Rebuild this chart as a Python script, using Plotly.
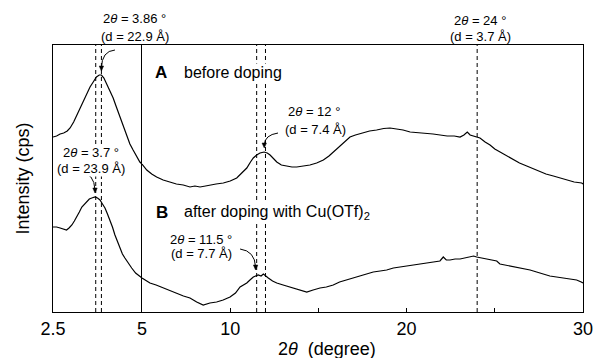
import plotly.graph_objects as go
import numpy as np

# ---- data (intensity in arbitrary units) ----
two_theta_A = [2.50, 2.60, 2.70, 2.80, 2.90, 2.98, 3.08, 3.17, 3.26, 3.35, 3.45, 3.54, 3.63, 3.72,
               3.80, 3.86, 3.93, 4.00, 4.10, 4.19, 4.28, 4.38, 4.47, 4.57, 4.66, 4.75, 4.85, 4.94,
               5.00, 5.27, 5.55, 5.83, 6.20, 6.59, 6.95, 7.34, 7.72, 8.00, 8.29, 8.60, 8.85, 9.20,
               9.61, 10.0, 10.37, 10.6, 10.94, 11.15, 11.31, 11.5, 11.69, 11.92, 12.1, 12.26, 12.45,
               12.64, 12.9, 13.2, 13.5, 13.77, 14.1, 14.52, 14.9, 15.28, 15.6, 15.85, 16.1, 16.41,
               16.79, 17.1, 17.55, 17.9, 18.3, 18.7, 19.06, 19.4, 19.8, 20.2, 20.6, 21.0, 21.5,
               21.9, 22.3, 22.7, 23.03, 23.25, 23.44, 23.6, 23.78, 24.16, 24.45, 24.73, 25.0,
               25.29, 25.7, 26.05, 26.4, 26.81, 27.2, 27.56, 27.9, 28.32, 28.7, 29.08, 29.5,
               29.93, 30.0]
intensity_A = [175, 176, 178, 179, 181, 184, 190, 197, 205, 212, 219, 225, 230, 235,
               237, 237, 234, 229, 222, 214, 205, 195, 185, 175, 168, 162, 156, 150,
               148, 142, 138, 135, 132, 130, 128, 127, 125, 126, 125, 126, 127, 128,
               129, 131, 134, 138, 144, 150, 154, 157, 159, 160, 159, 157, 153,
               150, 147, 146, 145, 145, 146, 147, 149, 152, 156, 160, 164, 169,
               175, 177, 179, 181, 182, 183.5, 184, 183, 182, 180, 179.5, 179, 178,
               177, 176, 176, 175, 177, 180, 177, 176, 174, 170, 167, 163,
               160, 156, 152, 149, 146, 143, 140, 138, 136, 134, 132, 130,
               129, 128]

two_theta_B = [2.50, 2.60, 2.70, 2.80, 2.88, 2.95, 3.03, 3.10, 3.17, 3.24, 3.31, 3.38, 3.45, 3.52,
               3.59, 3.68, 3.75, 3.82, 3.89, 3.96, 4.03, 4.10, 4.17, 4.24, 4.31, 4.38, 4.45, 4.52,
               4.61, 4.71, 4.82, 4.94, 5.00, 5.45, 5.8, 6.21, 6.6, 6.97, 7.35, 7.72, 8.1, 8.47,
               8.85, 9.23, 9.6, 9.99, 10.3, 10.56, 10.74, 10.94, 11.12, 11.31, 11.59, 11.75, 11.88,
               12.0, 12.16, 12.4, 12.64, 13.0, 13.39, 13.8, 14.34, 14.7, 15.09, 15.45, 15.84,
               16.2, 16.6, 17.0, 17.36, 17.7, 18.11, 18.5, 18.87, 19.25, 19.63, 20.0, 20.38,
               20.75, 21.14, 21.5, 21.89, 22.08, 22.25, 22.46, 22.75, 23.03, 23.3, 23.59, 23.8,
               23.97, 24.25, 24.54, 24.8, 25.11, 25.29, 25.6, 25.86, 26.2, 26.61, 27.0, 27.37,
               27.75, 28.12, 28.5, 28.88, 29.25, 29.64, 29.9, 30.0]
intensity_B = [85, 85, 84, 83, 82, 84, 87, 91, 95, 100, 105, 108, 111, 113,
               114, 115, 114, 112, 108, 104, 98, 92, 85, 77, 70, 64, 58, 54,
               49, 44, 39, 35, 34, 29, 27, 24, 21, 19, 16, 14, 10, 7,
               9, 10, 12, 15, 19, 25, 27, 29, 32, 35, 37, 36, 38,
               36, 34, 31, 29, 27, 25, 23, 20, 22, 24, 25, 27,
               30, 32, 34, 36, 38, 40, 41, 42, 44, 45, 46, 47,
               48, 49, 50, 51, 55, 52, 52, 53, 53, 54, 55, 56,
               55, 54, 53, 52, 51, 48, 47, 46, 45, 44, 42, 40,
               38, 36, 35, 34, 33, 32, 30, 29]

peaks_low = [3.7, 3.86]          # dashed lines, expanded low-angle panel
peaks_high = [11.5, 12.0, 24.0]  # dashed lines, main panel

x_ticks_low = [2.5, 5]
x_ticklabels_low = ["2.5", "5"]
x_ticks_high = [10, 20, 30]
x_ticklabels_high = ["10", "20", "30"]
x_minor_high = [15, 25]

FONT = "Arial, Liberation Sans, Helvetica, sans-serif"
W, H = 594, 358
L, R, T, B = 53, 11, 45, 46
PW, PH = W - L - R, H - T - B
split = (142 - L) / PW
LOW_RANGE = [2.5, 5]
HIGH_RANGE = [5, 30]
deg_per_px = {"x": (LOW_RANGE[1] - LOW_RANGE[0]) / (split * PW),
              "x2": (HIGH_RANGE[1] - HIGH_RANGE[0]) / ((1 - split) * PW)}


def px(xp):
    return (xp - L) / PW


def py(yp):
    return (H - B - yp) / PH


fig = go.Figure()

xa = np.array(two_theta_A); ya = np.array(intensity_A)
xb = np.array(two_theta_B); yb = np.array(intensity_B)
line = dict(color="black", width=1.2)
for xs, ys in ((xa, ya), (xb, yb)):
    m = xs <= 5
    fig.add_trace(go.Scatter(x=xs[m], y=ys[m], mode="lines", line=line,
                             xaxis="x", yaxis="y", showlegend=False, hoverinfo="skip"))
    m = xs >= 5
    fig.add_trace(go.Scatter(x=xs[m], y=ys[m], mode="lines", line=line,
                             xaxis="x2", yaxis="y2", showlegend=False, hoverinfo="skip"))

dash = dict(color="black", width=1, dash="4px,3px")
for p in peaks_low:
    fig.add_shape(type="line", xref="x", yref="paper", x0=p, x1=p, y0=0, y1=1, line=dash)
for p in peaks_high:
    fig.add_shape(type="line", xref="x2", yref="paper", x0=p, x1=p, y0=0, y1=1, line=dash)

# curved arrows with small filled heads
arrows = [
    ("x", 4.24, 262, 3.87, 261, 3.86, 241),
    ("x2", 12.71, 179, 11.95, 177, 11.93, 164),
    ("x", 3.26, 140, 3.66, 139, 3.68, 119),
    ("x2", 10.56, 63, 11.40, 61, 11.44, 42),
]
for xr, x0, y0, cx, cy, x1, y1 in arrows:
    yr = "y" if xr == "x" else "y2"
    fig.add_shape(type="path", xref=xr, yref=yr,
                  path=f"M {x0},{y0} Q {cx},{cy} {x1},{y1 + 3}",
                  line=dict(color="black", width=1))
    hw = 2.2 * deg_per_px[xr]
    fig.add_shape(type="path", xref=xr, yref=yr,
                  path=f"M {x1},{y1} L {x1 - hw},{y1 + 5} L {x1 + hw},{y1 + 5} Z",
                  line=dict(color="black", width=0.5), fillcolor="black")


def label(xp, yp, text, size=13, bg=None, xanchor="center"):
    fig.add_annotation(x=px(xp), y=py(yp), xref="paper", yref="paper", text=text,
                       showarrow=False, xanchor=xanchor, yanchor="middle",
                       font=dict(family=FONT, size=size, color="black"),
                       bgcolor=bg, borderpad=0)


label(134.5, 19, "2<i>θ</i> = 3.86 °")
label(134.5, 37, "(d = 22.9 Å)")
label(480, 20, "2<i>θ</i> = 24 °")
label(480, 37, "(d = 3.7 Å)")
label(314, 112, "2<i>θ</i> = 12 °")
label(315, 129, "(d = 7.4 Å)")
label(91, 152, "2<i>θ</i> = 3.7 °", bg="white")
label(91, 168, "(d = 23.9 Å)", bg="white")
label(201, 239, "2<i>θ</i> = 11.5 °")
label(201, 253, "(d = 7.7 Å)")
label(161, 72, "<b>A</b>", size=17, bg="white")
label(183, 72, "before doping", size=16, bg="white", xanchor="left")
label(162, 212, "<b>B</b>", size=17, bg="white")
label(183, 212, "after doping with Cu(OTf)<sub>2</sub>", size=16, bg="white", xanchor="left")

# axis titles
label(327, 349, "2<i>θ</i>  (degree)", size=18)
fig.add_annotation(x=px(22), y=0.5, xref="paper", yref="paper", text="Intensity (cps)",
                   textangle=-90, showarrow=False, xanchor="center", yanchor="middle",
                   font=dict(family=FONT, size=18, color="black"))

axis_common = dict(showline=True, linecolor="black", linewidth=1, mirror=True,
                   showgrid=False, zeroline=False, ticks="inside", ticklen=4,
                   tickcolor="black", automargin=False,
                   tickfont=dict(family=FONT, size=18, color="black"))
yaxis_common = dict(domain=[0, 1], range=[0, PH], showline=True, linecolor="black",
                    linewidth=1, showgrid=False, zeroline=False,
                    showticklabels=False, ticks="", automargin=False)

fig.update_layout(
    template="none",
    width=W, height=H,
    margin=dict(l=L, r=R, t=T, b=B, autoexpand=False),
    paper_bgcolor="white", plot_bgcolor="white",
    showlegend=False,
    hovermode=False,
    xaxis=dict(domain=[0, split], range=LOW_RANGE, anchor="y",
               tickvals=x_ticks_low, ticktext=x_ticklabels_low, **axis_common),
    xaxis2=dict(domain=[split, 1], range=HIGH_RANGE, anchor="y2",
                tickvals=x_ticks_high, ticktext=x_ticklabels_high,
                minor=dict(tickvals=x_minor_high, ticks="inside", ticklen=4,
                           tickcolor="black", showgrid=False),
                **axis_common),
    yaxis=dict(anchor="x", mirror=False, **yaxis_common),
    yaxis2=dict(anchor="x2", mirror=True, **yaxis_common),
)

fig.write_html("out.html", config={"displayModeBar": False},
               post_script="document.body.style.margin='0';document.body.style.padding='0';")
